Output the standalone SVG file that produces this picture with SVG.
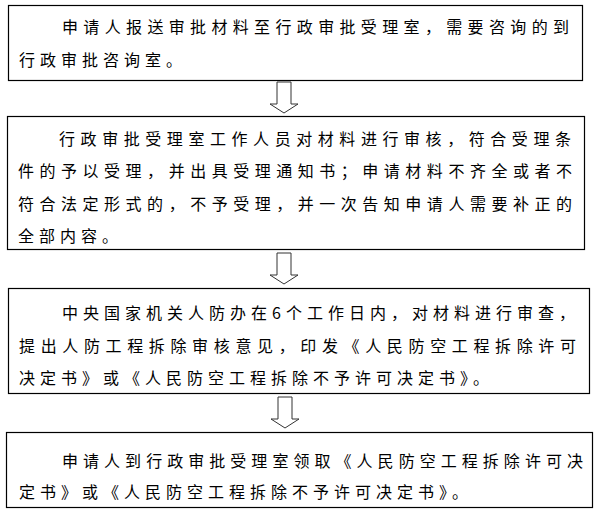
<svg xmlns="http://www.w3.org/2000/svg" width="599" height="512" viewBox="0 0 599 512">
<style>
.box{fill:#ffffff;stroke:#000000;stroke-width:1.2}
.arr{fill:#ffffff;stroke:#333333;stroke-width:1}
text{font-family:"Noto Sans CJK SC","Noto Sans",sans-serif;font-size:16px;fill:#000000}
.ls{letter-spacing:5px}
</style>
<rect width="599" height="512" fill="#ffffff"/>
<g id="connectors">
<polygon class="arr" points="277,82 291,82 291,104 298,104 284,113 270,104 277,104"/>
<polygon class="arr" points="277,253 291,253 291,275 298,275 284,284 270,275 277,275"/>
<polygon class="arr" points="278,397 292,397 292,419 299,419 285,428 271,419 278,419"/>
</g>
<g id="node1">
<rect class="box" x="8.5" y="5.5" width="574" height="75"/>
<text x="62" y="33" textLength="507" lengthAdjust="spacing">申请人报送审批材料至行政审批受理室，需要咨询的到</text>
<text class="ls" x="19" y="66">行政审批咨询室。</text>
</g>
<g id="node2">
<rect class="box" x="7.5" y="116.5" width="577" height="133"/>
<text x="59" y="145" textLength="512" lengthAdjust="spacing">行政审批受理室工作人员对材料进行审核，符合受理条</text>
<text x="18" y="177" textLength="554" lengthAdjust="spacing">件的予以受理，并出具受理通知书；申请材料不齐全或者不</text>
<text x="18" y="210" textLength="554" lengthAdjust="spacing">符合法定形式的，不予受理，并一次告知申请人需要补正的</text>
<text class="ls" x="18" y="242">全部内容。</text>
</g>
<g id="node3">
<rect class="box" x="8.5" y="288.5" width="581" height="105"/>
<text x="62" y="319" textLength="513" lengthAdjust="spacing">中央国家机关人防办在6个工作日内，对材料进行审查，</text>
<text x="19" y="352" textLength="557" lengthAdjust="spacing">提出人防工程拆除审核意见，印发《人民防空工程拆除许可</text>
<text class="ls" x="19" y="384">决定书》或《人民防空工程拆除不予许可决定书》。</text>
</g>
<g id="node4">
<rect class="box" x="6.5" y="432.5" width="586" height="75"/>
<text x="62" y="467" textLength="521" lengthAdjust="spacing">申请人到行政审批受理室领取《人民防空工程拆除许可决</text>
<text class="ls" x="19" y="498">定书》或《人民防空工程拆除不予许可决定书》。</text>
</g>
</svg>
